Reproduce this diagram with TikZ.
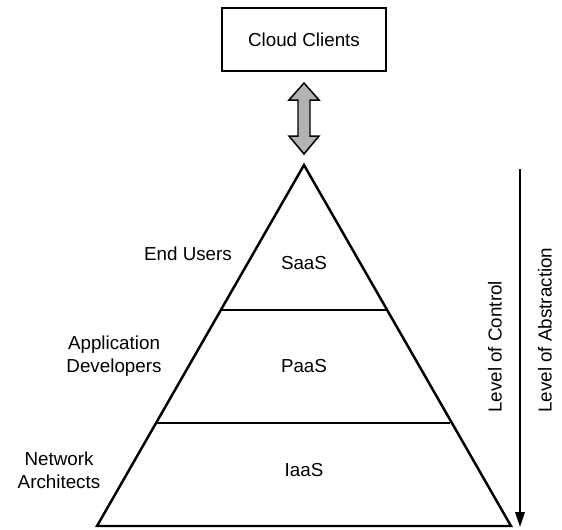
\documentclass[tikz,border=0pt]{standalone}
\usepackage{fontspec}
\setmainfont{Liberation Sans}
\usetikzlibrary{arrows.meta}
\begin{document}
\begin{tikzpicture}[x=0.02cm,y=-0.02cm,line join=miter,font=\fontsize{10.7}{12.8}\selectfont]
			\def \apx{304}
			\def \apy{165}
			\def \base{526}
			\tikzset{layer/.style={line width=0.85pt},
				lbl/.style={align=center,inner sep=0pt}}
			\useasboundingbox (0,0) rectangle (562,529);
			% clients box
			\node[draw,line width=0.85pt,minimum width=164*0.02cm,minimum height=63*0.02cm,inner sep=0pt] (clients) at (\apx,39.5) {Cloud Clients};
			% double arrow between clients and pyramid
			\filldraw[fill=black!30,line width=0.85pt] (\apx,83) -- ++(15,17) -- ++(-9,0) -- ++(0,36) -- ++(9,0) -- (\apx,154) -- ++(-15,-18) -- ++(9,0) -- ++(0,-36) -- ++(-9,0) -- cycle;
			% pyramid
			\coordinate (apex) at (\apx,\apy);
			\coordinate (bl) at (97,\base);
			\coordinate (br) at (511,\base);
			\draw[line width=1.4pt] (apex) -- (br) -- (bl) -- cycle;
			\draw[layer] (222,310) -- (386,310);
			\draw[layer] (157,423) -- (450,423);
			\node[lbl] (saas) at (\apx,263) {SaaS};
			\node[lbl] (paas) at (\apx,366) {PaaS};
			\node[lbl] (iaas) at (\apx,470) {IaaS};
			% who uses which layer
			\node[lbl] (users) at (188,254) {End Users};
			\node[lbl] (devs) at (114,356) {Application\\Developers};
			\node[lbl] (architects) at (59,470.5) {Network\\Architects};
			% control arrow
			\coordinate (ctop) at (520,169);
			\coordinate (cbot) at (520,527);
			\draw[line width=0.85pt,-{Triangle[length=8.5pt,width=5.5pt]}] (ctop) -- (cbot);
			\node[lbl,rotate=90,anchor=west] (control) at (495,413) {Level of Control};
			\node[lbl,rotate=90,anchor=west] (abstraction) at (545,413) {Level of Abstraction};
	\end{tikzpicture}
\end{document}
